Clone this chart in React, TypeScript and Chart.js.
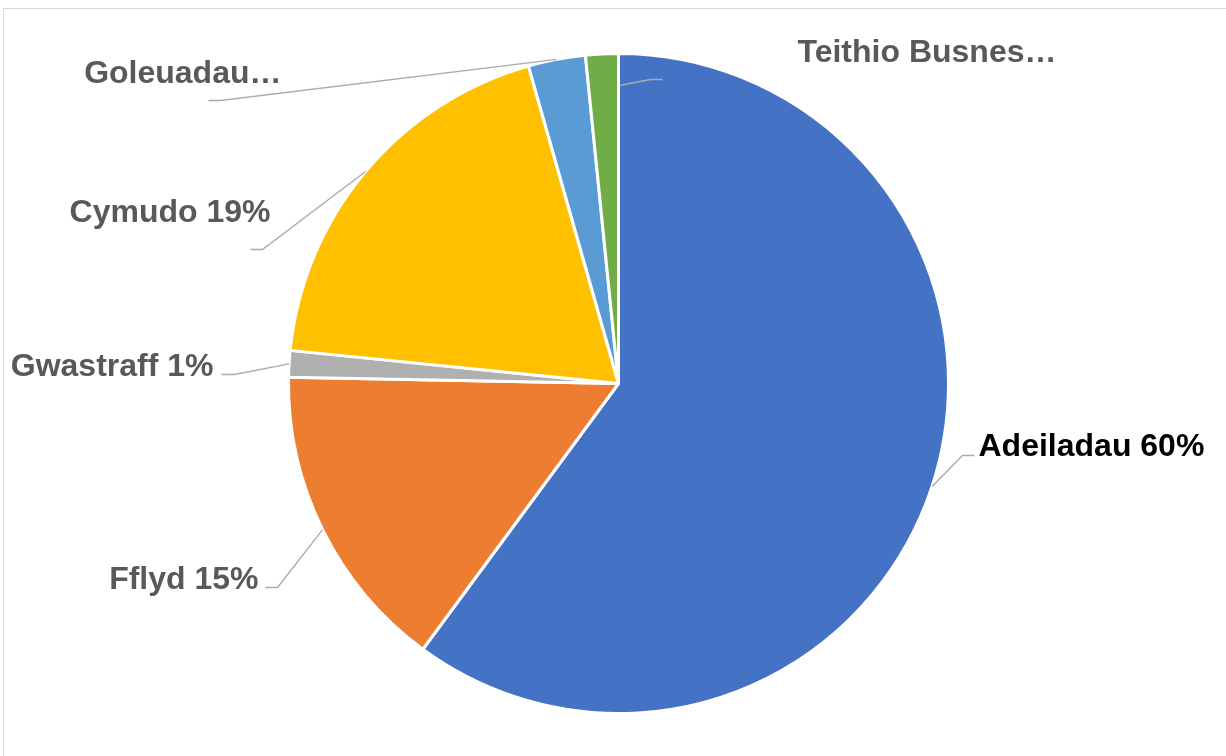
import React, { useEffect, useRef } from "react";
import { Chart, registerables } from "chart.js";

Chart.register(...registerables);

// ---- data ----
const categories = ["Adeiladau", "Fflyd", "Gwastraff", "Cymudo", "Goleuadau", "Teithio Busnes"];
const values = [60.1, 15.2, 1.3, 19.0, 2.8, 1.6];
const labelTexts = ["Adeiladau 60%", "Fflyd 15%", "Gwastraff 1%", "Cymudo 19%", "Goleuadau…", "Teithio Busnes…"];
const colors = ["#4472C4", "#ED7D31", "#B0B0B0", "#FFC000", "#5B9BD5", "#70AD47"];
const labelColors = ["#000000", "#595959", "#595959", "#595959", "#595959", "#595959"];

// ---- label layout (offsets relative to pie centre) ----
type Layout = {
  start?: [number, number];
  elbow: [number, number];
  end: [number, number];
  text: [number, number];
  align: CanvasTextAlign;
};
const labelLayout: Layout[] = [
  { elbow: [344, 72], end: [356, 72], text: [360, 72], align: "left" },
  { elbow: [-341, 204], end: [-353, 204], text: [-360, 205], align: "right" },
  { elbow: [-384, -9], end: [-397, -9], text: [-405, -8], align: "right" },
  { elbow: [-356, -134], end: [-368, -134], text: [-348, -162], align: "right" },
  { elbow: [-398, -283], end: [-410, -283], text: [-337, -301], align: "right" },
  { start: [1, -298], elbow: [32, -304], end: [44, -304], text: [179, -322], align: "left" },
];

const labelPlugin = {
  id: "leaderLabels",
  afterDraw(chart: any) {
    const ctx = chart.ctx as CanvasRenderingContext2D;
    const meta = chart.getDatasetMeta(0);
    meta.data.forEach((arc: any, i: number) => {
      const lay = labelLayout[i];
      if (!lay) return;
      const p = arc.getProps(["x", "y", "startAngle", "endAngle", "outerRadius"], true);
      const cx = p.x;
      const cy = p.y;
      const mid = (p.startAngle + p.endAngle) / 2;
      let sx = cx + Math.cos(mid) * p.outerRadius;
      let sy = cy + Math.sin(mid) * p.outerRadius;
      if (lay.start) {
        sx = cx + lay.start[0];
        sy = cy + lay.start[1];
      }
      ctx.save();
      ctx.strokeStyle = "#ABABAB";
      ctx.lineWidth = 1.4;
      ctx.beginPath();
      ctx.moveTo(sx, sy);
      ctx.lineTo(cx + lay.elbow[0], cy + lay.elbow[1]);
      ctx.lineTo(cx + lay.end[0], cy + lay.end[1]);
      ctx.stroke();
      ctx.font = "bold 32px 'Liberation Sans', Arial, sans-serif";
      ctx.fillStyle = labelColors[i];
      ctx.textAlign = lay.align;
      ctx.textBaseline = "alphabetic";
      ctx.fillText(labelTexts[i], cx + lay.text[0], cy + lay.text[1]);
      ctx.restore();
    });
  },
};

export default function App() {
  const canvasRef = useRef<HTMLCanvasElement | null>(null);

  useEffect(() => {
    if (!canvasRef.current) return;
    const chart = new Chart(canvasRef.current, {
      type: "pie",
      data: {
        labels: categories,
        datasets: [
          {
            data: values,
            backgroundColor: colors,
            borderColor: "#FFFFFF",
            borderWidth: 3,
          },
        ],
      },
      options: {
        responsive: false,
        animation: false,
        devicePixelRatio: 1,
        layout: { padding: { top: 52, bottom: 41, left: 287, right: 276 } },
        plugins: {
          legend: { display: false },
          tooltip: { enabled: false },
          title: { display: false },
        },
      },
      plugins: [labelPlugin],
    });
    return () => chart.destroy();
  }, []);

  return (
    <div
      style={{
        position: "absolute",
        left: 0,
        top: 0,
        width: 1226,
        height: 756,
        overflow: "hidden",
        background: "#FFFFFF",
      }}
    >
      <div
        style={{
          position: "absolute",
          left: 3,
          top: 8,
          width: 1260,
          height: 800,
          border: "1px solid #D9D9D9",
          boxSizing: "border-box",
        }}
      />
      <canvas
        ref={canvasRef}
        width={1226}
        height={756}
        style={{ position: "absolute", left: 0, top: 0, width: 1226, height: 756 }}
      />
    </div>
  );
}
